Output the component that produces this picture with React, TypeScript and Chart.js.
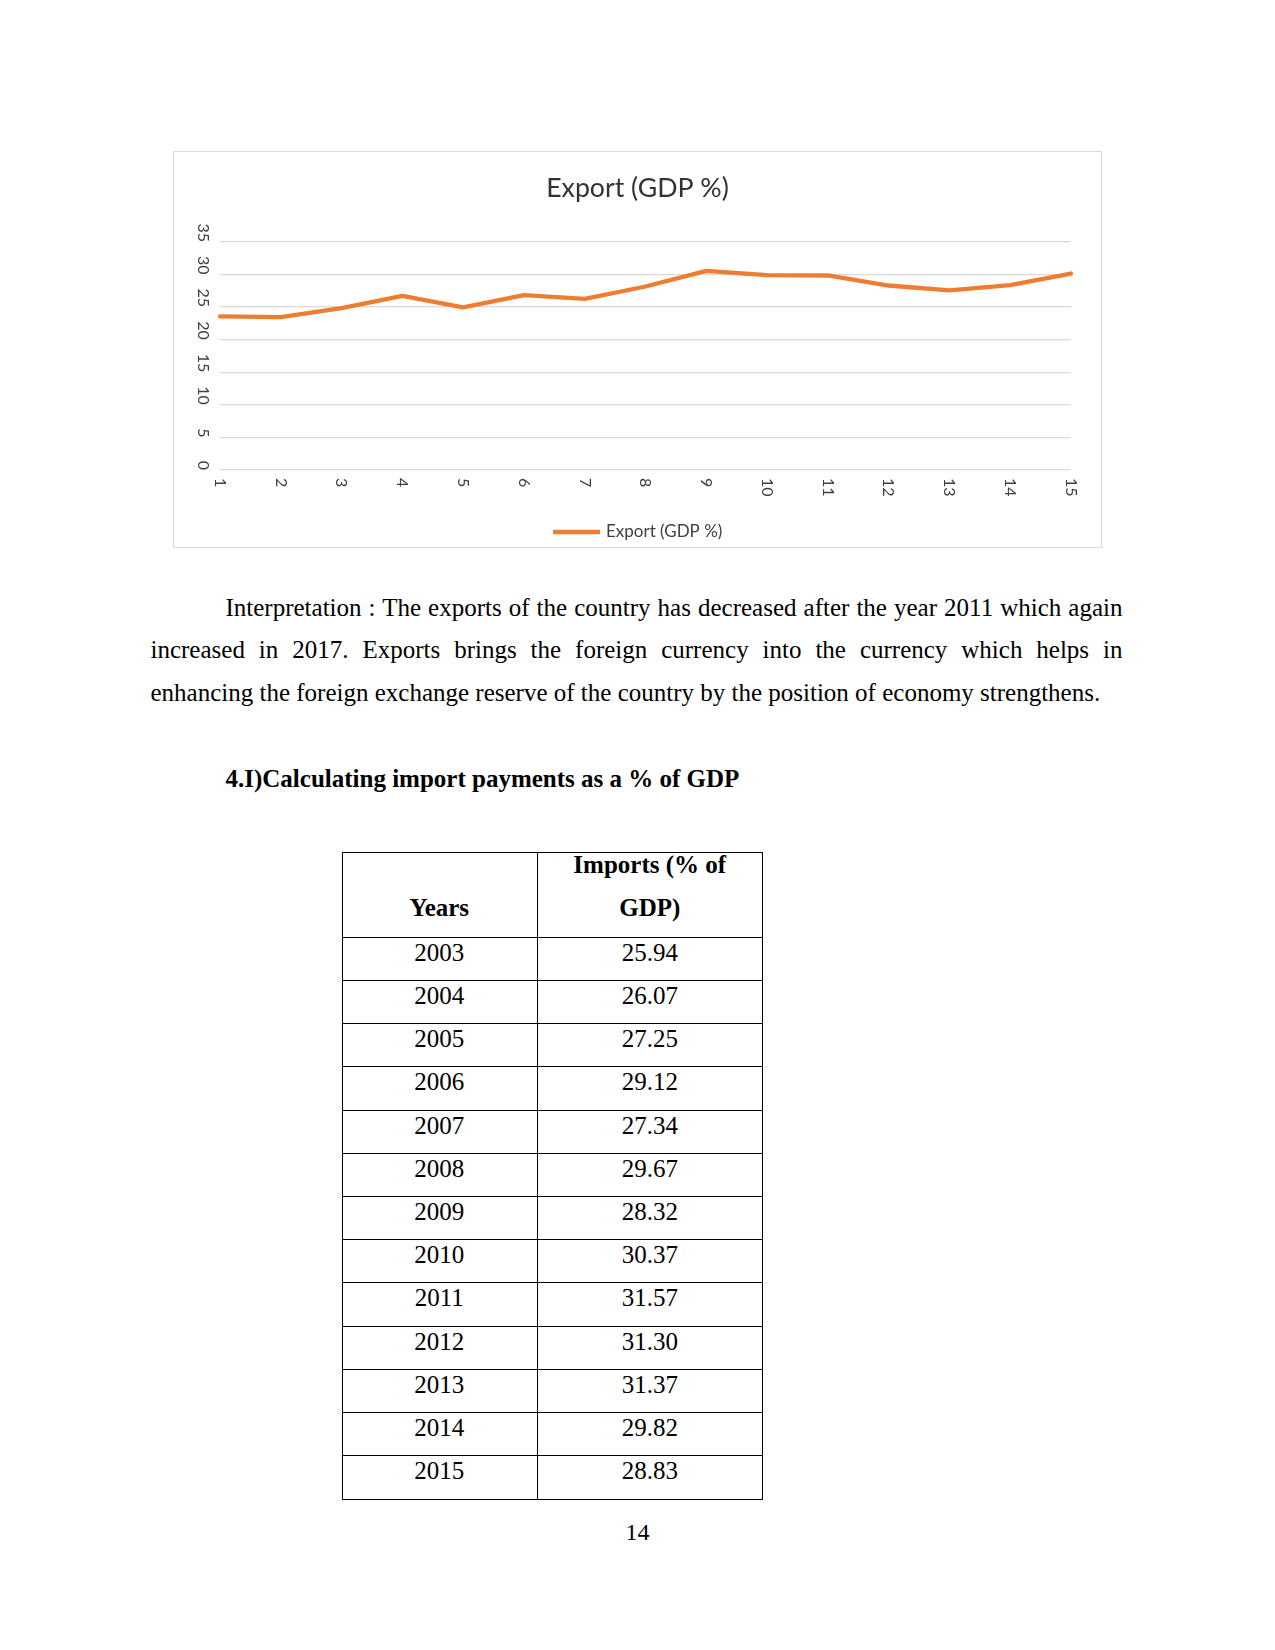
import React, { useEffect, useRef } from "react";
import { Chart, registerables } from "chart.js";

Chart.register(...registerables);

// ---- chart data ----
const chartTitle = "Export (GDP %)";
const seriesLabel = "Export (GDP %)";
const xLabels = ["1", "2", "3", "4", "5", "6", "7", "8", "9", "10", "11", "12", "13", "14", "15"];
const exportValues = [23.57, 23.47, 24.85, 26.74, 24.95, 26.84, 26.28, 28.17, 30.57, 29.9, 29.86, 28.32, 27.56, 28.37, 30.16];
const yMin = 0;
const yMax = 35;
const yStep = 5;

// ---- table data ----
const tableYears = ["2003", "2004", "2005", "2006", "2007", "2008", "2009", "2010", "2011", "2012", "2013", "2014", "2015"];
const tableImports = ["25.94", "26.07", "27.25", "29.12", "27.34", "29.67", "28.32", "30.37", "31.57", "31.30", "31.37", "29.82", "28.83"];

const ORANGE = "#ED7D31";
const LABEL_GREY = "#3f3f3f";
const SANS = "Lato, 'Open Sans', sans-serif";
const SERIF = "'Liberation Serif', 'Times New Roman', serif";

const textPlugin = {
  id: "excelText",
  afterDraw(chart: any) {
    const ctx = chart.ctx as CanvasRenderingContext2D;
    const xs = chart.scales.x;
    const ys = chart.scales.y;
    const w = chart.width;
    ctx.save();
    // title
    ctx.fillStyle = "#333333";
    ctx.font = `26.7px ${SANS}`;
    ctx.textAlign = "center";
    ctx.textBaseline = "alphabetic";
    ctx.fillText(chartTitle, w / 2, 44.7);

    ctx.fillStyle = LABEL_GREY;
    // y tick labels, rotated clockwise
    ctx.font = `16px ${SANS}`;
    ys.ticks.forEach((t: any) => {
      const py = ys.getPixelForValue(t.value);
      ctx.save();
      ctx.translate(29.5, py);
      ctx.rotate(Math.PI / 2);
      ctx.textAlign = "right";
      ctx.textBaseline = "middle";
      ctx.fillText(String(t.value), 0, 0);
      ctx.restore();
    });

    // x tick labels, rotated clockwise
    xLabels.forEach((lab, i) => {
      const px = xs.getPixelForValue(i);
      ctx.save();
      ctx.translate(px, 326);
      ctx.rotate(Math.PI / 2);
      ctx.textAlign = "left";
      ctx.textBaseline = "middle";
      ctx.fillText(lab, 0, 0);
      ctx.restore();
    });

    // legend
    ctx.strokeStyle = ORANGE;
    ctx.lineWidth = 4.5;
    ctx.beginPath();
    ctx.moveTo(379, 380);
    ctx.lineTo(426, 380);
    ctx.stroke();
    ctx.font = `17px ${SANS}`;
    ctx.textAlign = "left";
    ctx.textBaseline = "middle";
    ctx.fillStyle = LABEL_GREY;
    ctx.fillText(seriesLabel, 432, 380);
    ctx.restore();
  },
};

function ExportChart() {
  const ref = useRef<HTMLCanvasElement>(null);
  useEffect(() => {
    if (!ref.current) return;
    const chart = new Chart(ref.current, {
      type: "line",
      data: {
        labels: xLabels,
        datasets: [
          {
            label: seriesLabel,
            data: exportValues,
            borderColor: ORANGE,
            backgroundColor: ORANGE,
            borderWidth: 4.3,
            pointRadius: 0,
            tension: 0,
            borderCapStyle: "round",
            borderJoinStyle: "round",
          },
        ],
      },
      options: {
        responsive: false,
        animation: false,
        devicePixelRatio: 1,
        layout: { padding: { left: 46, right: 30, top: 90, bottom: 77 } },
        plugins: {
          legend: { display: false },
          title: { display: false },
          tooltip: { enabled: false },
        },
        scales: {
          x: {
            display: false,
            offset: false,
          },
          y: {
            min: yMin,
            max: yMax,
            ticks: { display: false, stepSize: yStep },
            grid: { color: "#d9d9d9", lineWidth: 1.3, drawTicks: false },
            border: { display: false },
          },
        },
      },
      plugins: [textPlugin],
    });
    return () => chart.destroy();
  }, []);
  return <canvas ref={ref} width={927} height={395} style={{ display: "block" }} />;
}

const abs = (left: number, top: number, extra: React.CSSProperties = {}): React.CSSProperties => ({
  position: "absolute",
  left,
  top,
  ...extra,
});

export default function App() {
  const rowTop0 = 937.3;
  const rowH = 43.2;
  const col1L = 342;
  const colDiv = 536.5;
  const col2R = 763;
  return (
    <div style={{ position: "absolute", left: 0, top: 0, width: 1275, height: 1650, background: "#fff", fontFamily: SERIF, color: "#000" }}>
      <div
        style={abs(173, 151, {
          width: 929,
          height: 397,
          border: "1px solid #d9d9d9",
          boxSizing: "border-box",
        })}
      >
        <ExportChart />
      </div>

      <div style={abs(225.5, 585.8, { width: 1122.5 - 225.5, fontSize: 25, lineHeight: "43px", textAlign: "justify", textAlignLast: "justify" })}>
        Interpretation : The exports of the country has decreased after the year 2011 which again
      </div>
      <div style={abs(150.5, 628.4, { width: 972, fontSize: 25, lineHeight: "43px", textAlign: "justify", textAlignLast: "justify" })}>
        increased in 2017. Exports brings the foreign currency into the currency which helps in
      </div>
      <div style={abs(150.5, 670.8, { width: 1000, fontSize: 25, lineHeight: "43px", whiteSpace: "nowrap" })}>
        enhancing the foreign exchange reserve of the country by the position of economy strengthens.
      </div>

      <div style={abs(225.5, 757.4, { fontSize: 25, lineHeight: "43px", fontWeight: "bold", whiteSpace: "nowrap" })}>
        4.I)Calculating import payments as a % of GDP
      </div>

      {/* table */}
      <div
        style={abs(col1L, 851.5, {
          width: col2R - col1L,
          height: 1499.5 - 851.5,
          border: "1px solid #000",
          boxSizing: "border-box",
        })}
      />
      <div style={abs(colDiv, 851.5, { width: 1, height: 1499.5 - 851.5, background: "#000" })} />
      {tableYears.map((_, i) => (
        <div key={"hl" + i} style={abs(col1L, rowTop0 + i * rowH - 0.5, { width: col2R - col1L, height: 1, background: "#000" })} />
      ))}
      <div style={abs(col1L, 851.7 - 7.3 + 42.8, { width: colDiv - col1L, fontSize: 25, lineHeight: "42.8px", fontWeight: "bold", textAlign: "center" })}>
        Years
      </div>
      <div style={abs(colDiv, 851.7 - 7.3, { width: col2R - colDiv, fontSize: 25, lineHeight: "42.8px", fontWeight: "bold", textAlign: "center" })}>
        Imports (% of
        <br />
        GDP)
      </div>
      {tableYears.map((y, i) => (
        <React.Fragment key={"r" + i}>
          <div style={abs(col1L, rowTop0 + i * rowH - 6.5, { width: colDiv - col1L, fontSize: 25, lineHeight: "43.2px", textAlign: "center" })}>{y}</div>
          <div style={abs(colDiv, rowTop0 + i * rowH - 6.5, { width: col2R - colDiv, fontSize: 25, lineHeight: "43.2px", textAlign: "center" })}>
            {tableImports[i]}
          </div>
        </React.Fragment>
      ))}

      <div style={abs(600, 1516.9, { width: 75, fontSize: 24, lineHeight: "30px", textAlign: "center" })}>14</div>
    </div>
  );
}
